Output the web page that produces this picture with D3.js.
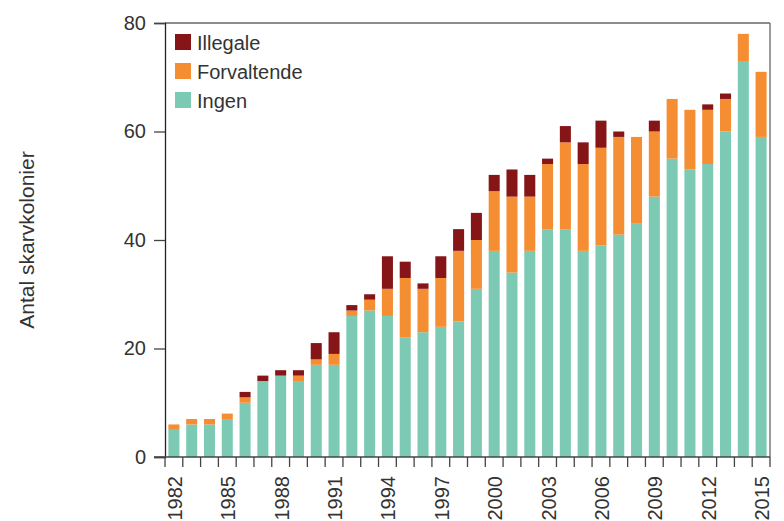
<!DOCTYPE html>
<html><head><meta charset="utf-8">
<script src="https://cdn.jsdelivr.net/npm/d3@7"></script>
<style>body{margin:0;background:#fff}svg{display:block}text{font-family:"Liberation Sans",Arial,sans-serif;fill:#333}</style>
</head><body><svg id="c" width="784" height="521"></svg>
<script>
const years = d3.range(1982, 2016);
const ingen      = [5,6,6,7,10,14,15,14,17,17,26,27,26,22,23,24,25,31,38,34,38,42,42,38,39,41,43,48,55,53,54,60,73,59];
const forvaltende= [1,1,1,1,1,0,0,1,1,2,1,2,5,11,8,9,13,9,11,14,10,12,16,16,18,18,16,12,11,11,10,6,5,12];
const illegale   = [0,0,0,0,1,1,1,1,3,4,1,1,6,3,1,4,4,5,3,5,4,1,3,4,5,1,0,2,0,0,1,1,0,0];
const seriesNames = ["Ingen","Forvaltende","Illegale"];
const colors = {"Ingen":"#7ccab4","Forvaltende":"#f58d32","Illegale":"#861518"};
const yTicks = [0,20,40,60,80];
const labelYears = [1982,1985,1988,1991,1994,1997,2000,2003,2006,2009,2012,2015];

const rows = years.map((y,i)=>({year:y, Ingen:ingen[i], Forvaltende:forvaltende[i], Illegale:illegale[i]}));
const svg = d3.select("#c");
const L=165, R=770, T=23, B=457;
const x = d3.scaleBand().domain(years).range([L,R]).paddingInner(0.38).paddingOuter(0.19);
const y = d3.scaleLinear().domain([0,80]).range([B,T]);
const stack = d3.stack().keys(seriesNames)(rows);

svg.append("g").selectAll("g").data(stack).join("g")
  .attr("fill", d=>colors[d.key])
  .selectAll("rect").data(d=>d).join("rect")
  .attr("x", d=>x(d.data.year)).attr("width", x.bandwidth())
  .attr("y", d=>y(d[1])).attr("height", d=>y(d[0])-y(d[1]));

// frame top & right
svg.append("line").attr("x1",L).attr("x2",R).attr("y1",T).attr("y2",T).attr("stroke","#666").attr("stroke-width",1.3);
svg.append("line").attr("x1",R).attr("x2",R).attr("y1",T).attr("y2",B).attr("stroke","#666").attr("stroke-width",1.3);

// y axis
const ya = svg.append("g").attr("transform",`translate(${L},0)`)
  .call(d3.axisLeft(y).tickValues(yTicks).tickSize(11).tickPadding(8));
ya.select(".domain").attr("stroke","#222").attr("stroke-width",1.3);
ya.selectAll(".tick line").attr("stroke","#444").attr("stroke-width",1.3);
ya.selectAll("text").attr("font-size",20).style("font-family","Liberation Sans, Arial, sans-serif").attr("fill","#333");

// x axis: ticks at band boundaries
const step = x.step();
const bounds = years.map(yr=>x(yr)-(step-x.bandwidth())/2).concat([R]);
const xa = svg.append("g");
xa.append("line").attr("x1",154).attr("x2",R).attr("y1",B).attr("y2",B).attr("stroke","#444").attr("stroke-width",1.3);
xa.selectAll("line.t").data(bounds).join("line").attr("class","t")
  .attr("x1",d=>d).attr("x2",d=>d).attr("y1",B).attr("y2",B+10).attr("stroke","#444").attr("stroke-width",1.3);
xa.selectAll("text").data(labelYears).join("text")
  .attr("transform",d=>`translate(${x(d)+x.bandwidth()/2+8},${B+19}) rotate(-90)`)
  .attr("text-anchor","end").attr("font-size",20).text(d=>d);

// y label
svg.append("text").attr("transform","translate(34,240) rotate(-90)").attr("text-anchor","middle")
  .attr("font-size",21).text("Antal skarvkolonier");

// legend
const leg = ["Illegale","Forvaltende","Ingen"];
const lg = svg.append("g").selectAll("g").data(leg).join("g")
  .attr("transform",(d,i)=>`translate(175,${34+i*29})`);
lg.append("rect").attr("width",16).attr("height",16).attr("fill",d=>colors[d]);
lg.append("text").attr("x",22).attr("y",16).attr("font-size",20).text(d=>d);
</script></body></html>
